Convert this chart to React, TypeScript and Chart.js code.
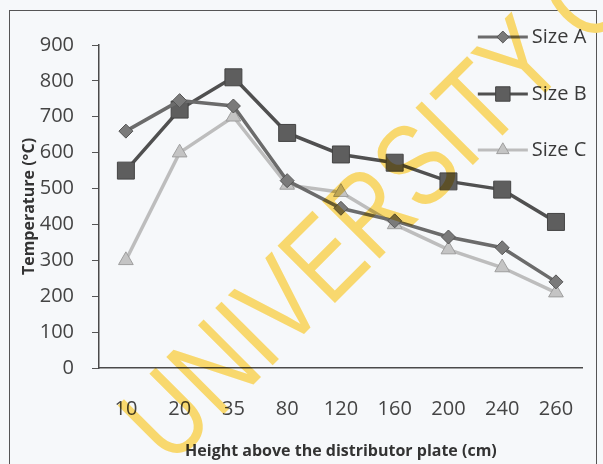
import React, { useEffect, useRef } from 'react';
import { Chart, registerables } from 'chart.js';
import { drawPoint } from 'chart.js/helpers';

Chart.register(...registerables);

const categories = ['10', '20', '35', '80', '120', '160', '200', '240', '260'];
const sizeA = [660, 745, 730, 522, 445, 410, 365, 335, 240];
const sizeB = [550, 720, 810, 655, 595, 572, 520, 497, 407];
const sizeC = [300, 600, 700, 510, 490, 400, 330, 280, 210];
const seriesNames = ['Size A', 'Size B', 'Size C'];
const yMin = 0;
const yMax = 900;
const yStep = 100;
const xTitle = 'Height above the distributor plate (cm)';
const yTitle = 'Temperature (°C)';
const watermark = 'UNIVERSITY OF CAPE COAST';

const FONT = "'Open Sans', 'Noto Sans', sans-serif";

const legendPlugin = {
  id: 'customLegend',
  afterDatasetsDraw(chart: any) {
    const { ctx, chartArea } = chart;
    const rowYs = [chartArea.top - 8, chartArea.top + 49, chartArea.top + 105];
    const x0 = chartArea.right - 105;
    const x1 = chartArea.right - 55;
    ctx.save();
    chart.data.datasets.forEach((ds: any, i: number) => {
      const y = rowYs[i];
      ctx.strokeStyle = ds.borderColor;
      ctx.lineWidth = 3;
      ctx.beginPath();
      ctx.moveTo(x0, y);
      ctx.lineTo(x1, y);
      ctx.stroke();
      ctx.fillStyle = ds.pointBackgroundColor;
      ctx.strokeStyle = ds.pointBorderColor;
      ctx.lineWidth = 1;
      drawPoint(ctx, { pointStyle: ds.pointStyle, radius: ds.pointRadius * 0.85, rotation: 0, borderWidth: 1 }, (x0 + x1) / 2, y);
      ctx.fillStyle = '#3a3a3a';
      ctx.font = `20px ${FONT}`;
      ctx.textAlign = 'left';
      ctx.textBaseline = 'middle';
      ctx.fillText(ds.label, x1 + 4, y);
    });
    ctx.restore();
  },
};

const watermarkPlugin = {
  id: 'watermark',
  afterDraw(chart: any) {
    const { ctx } = chart;
    ctx.save();
    ctx.globalCompositeOperation = 'multiply';
    ctx.translate(170, 468);
    ctx.rotate((-45 * Math.PI) / 180);
    ctx.scale(0.8, 1);
    ctx.fillStyle = '#f8d86e';
    ctx.font = `118px 'Liberation Sans', Arial, sans-serif`;
    ctx.textBaseline = 'alphabetic';
    ctx.textAlign = 'left';
    ctx.fillText(watermark, 0, 0);
    ctx.restore();
  },
};

export default function App() {
  const canvasRef = useRef<HTMLCanvasElement | null>(null);

  useEffect(() => {
    if (!canvasRef.current) return;
    const chart = new Chart(canvasRef.current, {
      type: 'line',
      data: {
        labels: categories,
        datasets: [
          {
            label: seriesNames[0],
            data: sizeA,
            borderColor: '#6b6b6b',
            borderWidth: 3.5,
            pointStyle: 'rectRot',
            pointRadius: 7,
            pointBackgroundColor: '#7a7a7a',
            pointBorderColor: '#555555',
            pointBorderWidth: 1,
            tension: 0,
          },
          {
            label: seriesNames[1],
            data: sizeB,
            borderColor: '#505050',
            borderWidth: 3.5,
            pointStyle: 'rect',
            pointRadius: 12,
            pointBackgroundColor: '#5e5e5e',
            pointBorderColor: '#444444',
            pointBorderWidth: 1,
            tension: 0,
          },
          {
            label: seriesNames[2],
            data: sizeC,
            borderColor: '#bdbdbd',
            borderWidth: 3.5,
            pointStyle: 'triangle',
            pointRadius: 8.5,
            pointBackgroundColor: '#c4c4c4',
            pointBorderColor: '#9e9e9e',
            pointBorderWidth: 1,
            tension: 0,
          },
        ],
      },
      options: {
        animation: false,
        responsive: false,
        maintainAspectRatio: false,
        layout: { padding: { top: 45, right: 16, bottom: 0, left: 0 } },
        plugins: {
          legend: { display: false },
          tooltip: { enabled: false },
        },
        scales: {
          x: {
            type: 'category',
            offset: true,
            grid: { display: false, drawTicks: false },
            border: { display: true, color: '#4a4a4a', width: 1.5 },
            ticks: { color: '#444', font: { family: FONT, size: 20 }, padding: 29, maxRotation: 0, autoSkip: false },
            title: {
              display: true,
              text: xTitle,
              color: '#333',
              font: { family: FONT, size: 16, weight: 'bold' },
              padding: { top: 0, bottom: 3 },
            },
            afterFit(scale: any) {
              scale.height = 96;
            },
          },
          y: {
            min: yMin,
            max: yMax,
            grid: { display: true, drawOnChartArea: false, drawTicks: true, tickLength: 7, color: '#555', lineWidth: 1 },
            border: { display: true, color: '#4a4a4a', width: 1.5 },
            ticks: { stepSize: yStep, color: '#444', font: { family: FONT, size: 20 }, padding: 18 },
            title: {
              display: true,
              text: yTitle,
              color: '#333',
              font: { family: FONT, size: 16, weight: 'bold' },
              padding: { top: 20, bottom: 0 },
            },
            afterFit(scale: any) {
              scale.width = 99;
            },
          },
        },
      },
      plugins: [legendPlugin, watermarkPlugin],
    });
    return () => chart.destroy();
  }, []);

  return (
    <div style={{ position: 'fixed', left: 0, top: 0, width: 603, height: 464, background: '#f6f8fa', overflow: 'hidden' }}>
      <div
        style={{
          position: 'absolute',
          left: 9,
          top: 10,
          width: 588,
          height: 480,
          border: '1.5px solid #555',
          borderBottom: 'none',
          boxSizing: 'border-box',
        }}
      />
      <canvas ref={canvasRef} width={603} height={464} style={{ position: 'absolute', left: 0, top: 0 }} />
    </div>
  );
}
